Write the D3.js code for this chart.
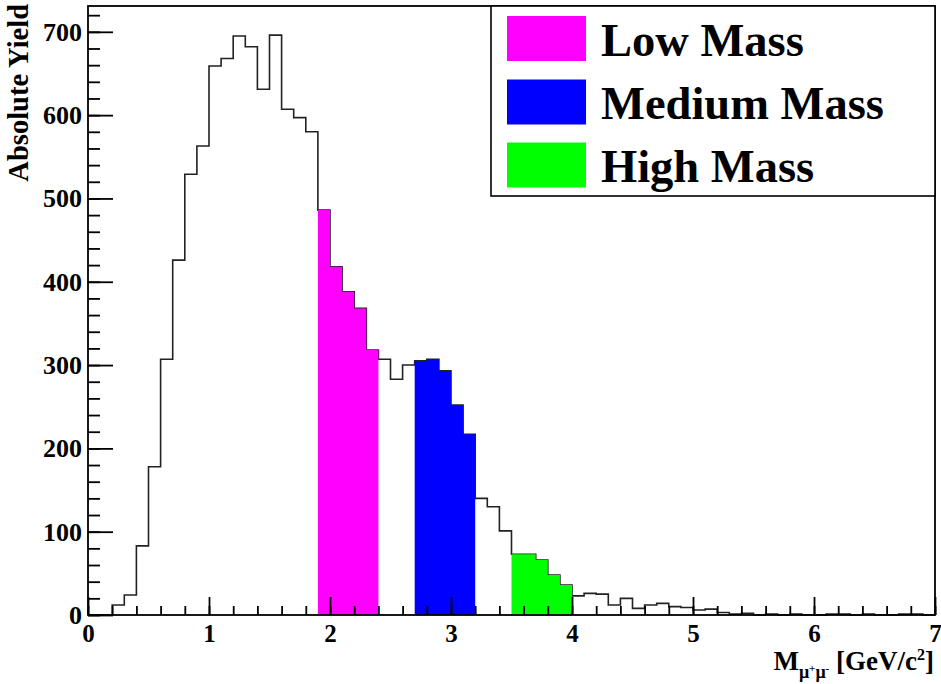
<!DOCTYPE html>
<html>
<head>
<meta charset="utf-8">
<script src="https://cdn.jsdelivr.net/npm/d3@7"></script>
<style>
  html, body { margin: 0; padding: 0; background: #fff; }
  svg { display: block; }
  text { font-family: "Liberation Serif", "Times New Roman", serif; font-weight: bold; fill: #000; }
</style>
</head>
<body>
<svg id="chart" width="941" height="684"></svg>
<script>
// ---- Data ----
const binWidth = 0.1;
const xDomain = [0, 7];
const yDomain = [0, 731];
// yield per 0.1 GeV/c^2 bin, starting at 0
const counts = [
  0, 0, 12, 24, 83, 178, 307, 426, 529, 563,
  659, 668, 695, 682, 631, 696, 607, 597, 580, 486,
  418, 388, 368, 318, 307, 283, 300, 305, 307, 293,
  252, 217, 140, 130, 101, 73, 73, 66, 48, 36,
  23, 26, 25, 12, 20, 8, 12, 14, 10, 9,
  6, 7, 3, 1, 2, 0, 1, 0, 1, 0,
  0, 1, 1, 0, 1, 0, 0, 1, 1, 0
];
const regionNames = ["Low Mass", "Medium Mass", "High Mass"];
const regionRanges = [[1.9, 2.4], [2.7, 3.2], [3.5, 4.0]];
const regionColors = ["#ff00ff", "#0000ff", "#00ff00"];
const xTicks = [0, 1, 2, 3, 4, 5, 6, 7];
const yTicks = [0, 100, 200, 300, 400, 500, 600, 700];

// ---- Layout ----
const svg = d3.select("#chart");
const L = 88, R = 935, T = 6, B = 615;
const x = d3.scaleLinear().domain(xDomain).range([L, R]);
const y = d3.scaleLinear().domain(yDomain).range([B, T]);

svg.append("rect").attr("width", 941).attr("height", 684).attr("fill", "#fff");

const bins = counts.map((c, i) => ({ lo: +(i * binWidth).toFixed(2), hi: +((i + 1) * binWidth).toFixed(2), v: c }));

// Main histogram outline
const pts = bins.map(b => [b.lo, b.v]);
pts.push([xDomain[1], bins[bins.length - 1].v]);
const line = d3.line().x(d => x(d[0])).y(d => y(d[1])).curve(d3.curveStepAfter);
svg.append("path")
  .attr("d", line(pts))
  .attr("fill", "none")
  .attr("stroke", "#222")
  .attr("stroke-width", 1.6);

// Filled mass regions (one step-area per region)
const area = d3.area().x(d => x(d[0])).y0(y(0)).y1(d => y(d[1])).curve(d3.curveStepAfter);
regionRanges.forEach((rg, k) => {
  const sel = bins.filter(b => b.lo >= rg[0] - 1e-6 && b.hi <= rg[1] + 1e-6);
  const ap = sel.map(b => [b.lo, b.v]);
  ap.push([sel[sel.length - 1].hi, sel[sel.length - 1].v]);
  svg.append("path").attr("d", area(ap)).attr("fill", regionColors[k]);
});

// Axes
const yMinor = d3.range(0, 731, 20);
const xMinor = d3.range(0, 7.001, 0.2).map(v => +v.toFixed(2));

svg.append("g").attr("transform", `translate(${L},0)`)
  .call(d3.axisLeft(y).tickValues(yMinor).tickSize(-12).tickFormat(""))
  .call(g => g.select(".domain").remove())
  .call(g => g.selectAll("line").attr("stroke", "#000").attr("stroke-width", 1.8));

svg.append("g").attr("transform", `translate(${L},0)`)
  .call(d3.axisLeft(y).tickValues(yTicks).tickSize(-25).tickPadding(6).tickFormat(d3.format("d")))
  .call(g => g.select(".domain").remove())
  .call(g => g.selectAll("line").attr("stroke", "#000").attr("stroke-width", 1.8))
  .call(g => g.selectAll("text").attr("font-size", 26).attr("font-family", "Liberation Serif").attr("font-weight", "bold").attr("fill", "#000"));

svg.append("g").attr("transform", `translate(0,${B})`)
  .call(d3.axisBottom(x).tickValues(xMinor).tickSize(-9).tickFormat(""))
  .call(g => g.select(".domain").remove())
  .call(g => g.selectAll("line").attr("stroke", "#000").attr("stroke-width", 1.8));

svg.append("g").attr("transform", `translate(0,${B})`)
  .call(d3.axisBottom(x).tickValues(xTicks).tickSize(-18).tickPadding(9).tickFormat(d3.format("d")))
  .call(g => g.select(".domain").remove())
  .call(g => g.selectAll("line").attr("stroke", "#000").attr("stroke-width", 1.8))
  .call(g => g.selectAll("text").attr("font-size", 25).attr("font-family", "Liberation Serif").attr("font-weight", "bold").attr("fill", "#000"));

// Frame
svg.append("rect")
  .attr("x", L).attr("y", T).attr("width", R - L).attr("height", B - T)
  .attr("fill", "none").attr("stroke", "#000").attr("stroke-width", 1.8);

// Axis titles
const xt = svg.append("text").attr("x", 934).attr("y", 670).attr("text-anchor", "end").attr("font-size", 27);
xt.append("tspan").text("M");
xt.append("tspan").attr("font-size", 18).attr("dy", 8).text("\u03bc");
xt.append("tspan").attr("font-size", 11).attr("dy", -6).text("+");
xt.append("tspan").attr("font-size", 18).attr("dy", 6).text("\u03bc");
xt.append("tspan").attr("font-size", 11).attr("dy", -6).text("-");
xt.append("tspan").attr("dy", -2).text(" [GeV/c");
xt.append("tspan").attr("font-size", 16).attr("dy", -10).text("2");
xt.append("tspan").attr("dy", 10).text("]");

svg.append("text")
  .attr("transform", "translate(28,4) rotate(-90)")
  .attr("text-anchor", "end")
  .attr("font-size", 28.5)
  .text("Absolute Yield");

// Legend
const lg = svg.append("g");
lg.append("rect").attr("x", 491).attr("y", T).attr("width", R - 491).attr("height", 190)
  .attr("fill", "#fff").attr("stroke", "#000").attr("stroke-width", 1.6);
const rowY = [38.5, 102, 165];
regionNames.forEach((name, k) => {
  lg.append("rect").attr("x", 507).attr("y", rowY[k] - 22.5).attr("width", 79).attr("height", 45)
    .attr("fill", regionColors[k]);
  lg.append("text").attr("x", 601).attr("y", rowY[k] + 17).attr("font-size", 46.5).text(name);
});
</script>
</body>
</html>
